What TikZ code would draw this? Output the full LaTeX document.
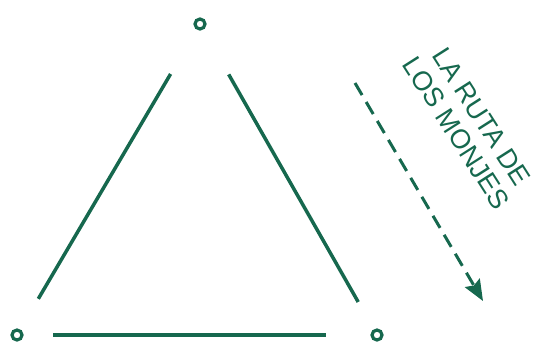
\documentclass[tikz,border=0pt]{standalone}
\usepackage{fontspec}
\setmainfont{Liberation Sans}
\usetikzlibrary{positioning,arrows.meta}
\definecolor{monkgreen}{RGB}{22,104,78}

\begin{document}
\begin{tikzpicture}[x=1pt,y=-1pt,>=Stealth,
  stop/.style={circle,draw=monkgreen,line width=3.2pt,minimum size=10pt,inner sep=0pt},
  side/.style={draw=monkgreen,line width=3.5pt}]
\useasboundingbox (0,0) rectangle (534,349);
\node[stop] (top) at (200,24) {};
\node[stop] (left) at (17,335) {};
\node[stop] (right) at (377,335) {};
\draw[side,shorten <=58pt,shorten >=42pt] (top.center) -- (left.center);
\draw[side,shorten <=58pt,shorten >=38pt] (top.center) -- (right.center);
\draw[side,shorten <=36pt,shorten >=51pt] (left.center) -- (right.center);
\coordinate (routestart) at (355,83);
\coordinate (routeend) at (483,301);
\draw[monkgreen,line width=3pt,dash pattern=on 14pt off 8pt,-{Stealth[length=21pt,width=17pt,inset=3pt]}] (routestart) -- (routeend);
\node[monkgreen,rotate=-57.5,align=center,inner sep=0pt,font=\fontsize{27}{30}\selectfont] (route) at (469,125) {LA RUTA DE\\LOS MONJES};
\end{tikzpicture}
\end{document}
